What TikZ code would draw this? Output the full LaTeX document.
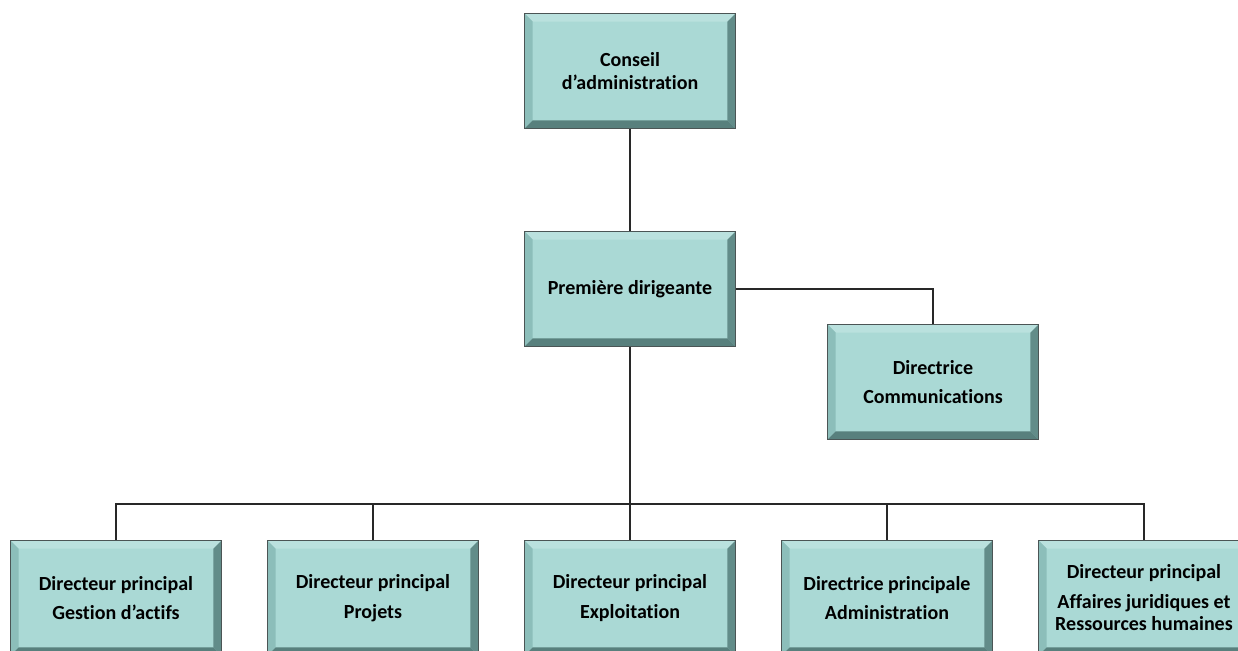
\documentclass[tikz,border=0pt]{standalone}
\usepackage{fontspec}
\setmainfont{Carlito}[Ligatures=NoCommon]
\definecolor{face}{RGB}{170,217,213}
\definecolor{bevtop}{RGB}{186,225,222}
\definecolor{bevleft}{RGB}{140,190,186}
\definecolor{bevright}{RGB}{98,140,137}
\definecolor{bevbot}{RGB}{88,128,125}
\definecolor{edge}{RGB}{75,85,85}
\definecolor{conn}{RGB}{40,40,40}
\tikzset{
  orgbox/.style={draw=edge, line width=0.6pt, fill=face,
    minimum width=158pt, minimum height=86pt, inner sep=0pt,
    align=center, font=\fontsize{15}{17}\selectfont\bfseries,
    path picture={
      \fill[bevtop] (path picture bounding box.north west) -- (path picture bounding box.north east)
        -- ([xshift=-6pt,yshift=-6pt]path picture bounding box.north east)
        -- ([xshift=6pt,yshift=-6pt]path picture bounding box.north west) -- cycle;
      \fill[bevleft] (path picture bounding box.north west) -- (path picture bounding box.south west)
        -- ([xshift=6pt,yshift=6pt]path picture bounding box.south west)
        -- ([xshift=6pt,yshift=-6pt]path picture bounding box.north west) -- cycle;
      \fill[bevright] (path picture bounding box.north east) -- (path picture bounding box.south east)
        -- ([xshift=-6pt,yshift=6pt]path picture bounding box.south east)
        -- ([xshift=-6pt,yshift=-6pt]path picture bounding box.north east) -- cycle;
      \fill[bevbot] (path picture bounding box.south west) -- (path picture bounding box.south east)
        -- ([xshift=-6pt,yshift=6pt]path picture bounding box.south east)
        -- ([xshift=6pt,yshift=6pt]path picture bounding box.south west) -- cycle;
    }},
  link/.style={draw=conn, line width=0.8pt}
}
\begin{document}
\begin{tikzpicture}[x=0.75pt,y=-0.75pt]
\useasboundingbox[fill=white] (0,0) rectangle (1238,650);
\node[orgbox] (conseil) at (630,71) {Conseil\\[0pt]d’administration};
\node[orgbox] (prem) at (630,289) {Première dirigeante};
\node[orgbox] (comm) at (933,382) {Directrice\\[5pt]Communications};
\node[orgbox] (b1) at (116,598) {Directeur principal\\[5pt]Gestion d’actifs};
\node[orgbox] (b2) at (373,598) {Directeur principal\\[5pt]Projets};
\node[orgbox] (b3) at (630,598) {Directeur principal\\[5pt]Exploitation};
\node[orgbox] (b4) at (887,598) {Directrice principale\\[5pt]Administration};
\node[orgbox] (b5) at (1144,598) {Directeur principal\\[5pt]Affaires juridiques et\\[0pt]Ressources humaines};
\coordinate (bus) at (630,504);
\draw[link] (conseil.south) -- (prem.north);
\draw[link] (prem.east) -| (comm.north);
\draw[link] (prem.south) -- (bus);
\foreach \b in {b1,b2,b3,b4,b5} {\draw[link] (bus) -| (\b.north);}
\end{tikzpicture}
\end{document}
